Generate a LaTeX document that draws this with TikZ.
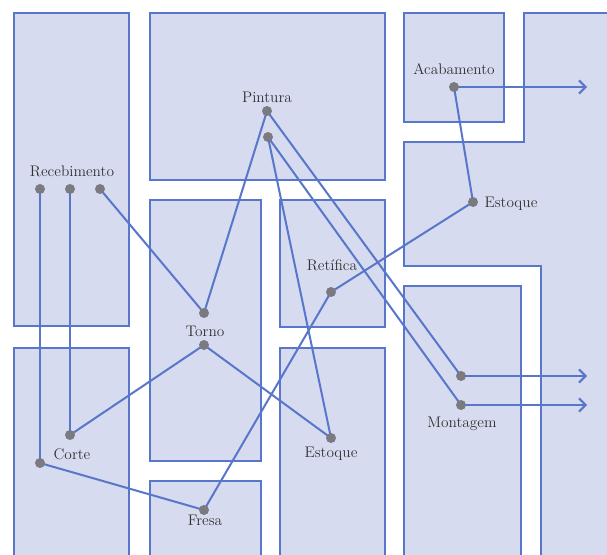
\documentclass[tikz,border=0pt]{standalone}
\usetikzlibrary{arrows.meta}
\definecolor{zonefill}{RGB}{214,219,240}
\definecolor{zoneline}{RGB}{88,118,202}
\definecolor{dotgray}{RGB}{122,122,128}
\definecolor{labelink}{RGB}{50,50,50}
\begin{document}
\begin{tikzpicture}[x=0.75pt,y=-0.75pt,
  zone/.style={fill=zonefill,draw=zoneline,line width=1.7pt},
  flow/.style={draw=zoneline,line width=1.5pt},
  exitflow/.style={flow,-{Straight Barb[length=5pt,width=10pt,line width=1.5pt]}},
  station/.style={circle,inner sep=0pt,minimum size=7.5pt},
  dot/.style={fill=dotgray},
  tag/.style={text=labelink,font=\fontsize{11.5}{13}\selectfont,inner sep=0pt}]
\useasboundingbox (0,0) rectangle (607,555);
\fill[white] (0,0) rectangle (607,555);
\begin{scope}
\clip (0,0) rectangle (607,555);
% floor zones
\draw[zone] (14,13) rectangle (129,326);
\draw[zone] (14,348) rectangle (129,570);
\draw[zone] (150,13) rectangle (385,180);
\draw[zone] (150,200) rectangle (261,461);
\draw[zone] (150,481) rectangle (261,570);
\draw[zone] (280,200) rectangle (385,327);
\draw[zone] (280,348) rectangle (385,570);
\draw[zone] (404,13) rectangle (504,122);
\draw[zone] (524,13) -- (620,13) -- (620,570) -- (541,570) -- (541,266)
  -- (404,266) -- (404,142) -- (524,142) -- cycle;
\draw[zone] (404,286) rectangle (521,570);
\end{scope}

% stations
\node[station] (rec1) at (40,189) {};
\node[station] (rec2) at (70,189) {};
\node[station] (rec3) at (100,189) {};
\node[station] (pin1) at (267,111) {};
\node[station] (pin2) at (268,137) {};
\node[station] (tor1) at (204,313) {};
\node[station] (tor2) at (204,345) {};
\node[station] (cor1) at (70,435) {};
\node[station] (cor2) at (40,463) {};
\node[station] (fre) at (204,510) {};
\node[station] (ret) at (331,292) {};
\node[station] (estm) at (331,438) {};
\node[station] (estr) at (473,202) {};
\node[station] (aca) at (454,87) {};
\node[station] (mon1) at (461,376) {};
\node[station] (mon2) at (461,405) {};
\coordinate (out1) at (587,87);
\coordinate (out2) at (587,376);
\coordinate (out3) at (587,405);

% material flow
\draw[flow] (rec1.center) -- (cor2.center);
\draw[flow] (rec2.center) -- (cor1.center);
\draw[flow] (rec3.center) -- (tor1.center);
\draw[flow] (pin1.center) -- (tor1.center);
\draw[flow] (pin1.center) -- (mon1.center);
\draw[flow] (pin2.center) -- (mon2.center);
\draw[flow] (pin2.center) -- (estm.center);
\draw[flow] (tor2.center) -- (cor1.center);
\draw[flow] (tor2.center) -- (estm.center);
\draw[flow] (cor2.center) -- (fre.center);
\draw[flow] (fre.center) -- (ret.center);
\draw[flow] (ret.center) -- (estr.center);
\draw[flow] (estr.center) -- (aca.center);
\draw[exitflow] (aca.center) -- (out1);
\draw[exitflow] (mon1.center) -- (out2);
\draw[exitflow] (mon2.center) -- (out3);

% station dots on top of the lines
\foreach \n in {rec1,rec2,rec3,pin1,pin2,tor1,tor2,cor1,cor2,fre,ret,estm,estr,aca,mon1,mon2}
  \fill[dot] (\n.center) circle (3.75pt);

% labels
\node[tag] (lrec) at (72,171) {Recebimento};
\node[tag] (lpin) at (267,97) {Pintura};
\node[tag] (ltor) at (205,331) {Torno};
\node[tag] (lcor) at (72,454) {Corte};
\node[tag] (lfre) at (205,520) {Fresa};
\node[tag] (lret) at (332,265) {Retífica};
\node[tag] (lestm) at (331,454) {Estoque};
\node[tag] (lestr) at (511,204) {Estoque};
\node[tag] (laca) at (454,69) {Acabamento};
\node[tag] (lmon) at (462,424) {Montagem};
\end{tikzpicture}
\end{document}
